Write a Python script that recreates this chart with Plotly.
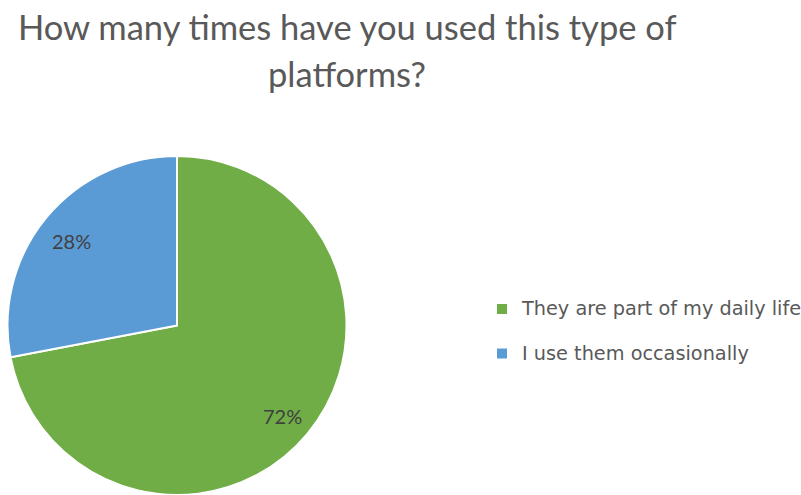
import math
import plotly.graph_objects as go

title_lines = ["How many times have you used this type of", "platforms?"]
labels = ["They are part of my daily life", "I use them occasionally"]
values = [72, 28]
colors = ["#70AD47", "#5B9BD5"]

W, H = 801, 495
dom_x = [6 / W, 348 / W]
dom_y = [0.0, 1 - 156 / H]

fig = go.Figure()
fig.add_trace(go.Pie(
    labels=[f"<span style='font-size:19.3px'>{l}</span><br> " for l in labels],
    values=values,
    sort=False,
    direction="clockwise",
    rotation=0,
    marker=dict(colors=colors, line=dict(color="white", width=2)),
    textinfo="none",
    hoverinfo="percent",
    domain=dict(x=dom_x, y=dom_y),
))

# percent labels placed from data-derived angles
px_w = (dom_x[1] - dom_x[0]) * W
px_h = (dom_y[1] - dom_y[0]) * H
r = min(px_w, px_h) / 2
cx = (dom_x[0] + dom_x[1]) / 2 * W
cy = H - (dom_y[0] + dom_y[1]) / 2 * H
total = sum(values)
cum = 0
for v in values:
    mid = (cum + v / 2) / total * 2 * math.pi
    cum += v
    x = cx + 0.81 * r * math.sin(mid)
    y = cy - 0.81 * r * math.cos(mid)
    fig.add_annotation(
        x=x / W, y=1 - y / H, xref="paper", yref="paper",
        xanchor="center", yanchor="middle", yshift=-3,
        text=f"{round(v / total * 100)}%", showarrow=False,
        font=dict(family="Lato, Carlito, sans-serif", size=20, color="#404040"),
    )

for t, ypx in zip(title_lines, [26, 74]):
    fig.add_annotation(
        x=347 / W, y=1 - ypx / H, xref="paper", yref="paper",
        text=t, showarrow=False, xanchor="center", yanchor="middle",
        font=dict(family="Lato, Carlito, sans-serif", size=34.5, color="#595959"),
    )

fig.update_layout(
    width=W, height=H,
    margin=dict(l=0, r=0, t=0, b=0, autoexpand=False),
    paper_bgcolor="white",
    plot_bgcolor="white",
    showlegend=True,
    legend=dict(
        x=482 / W, y=1 - 292 / H, xanchor="left", yanchor="top",
        valign="top",
        font=dict(family="DejaVu Sans, Verdana, sans-serif", size=16, color="#595959"),
        bgcolor="rgba(0,0,0,0)",
    ),
)

fig.write_html("out.html", config={"displayModeBar": False},
               post_script="document.body.style.margin='0px';")
